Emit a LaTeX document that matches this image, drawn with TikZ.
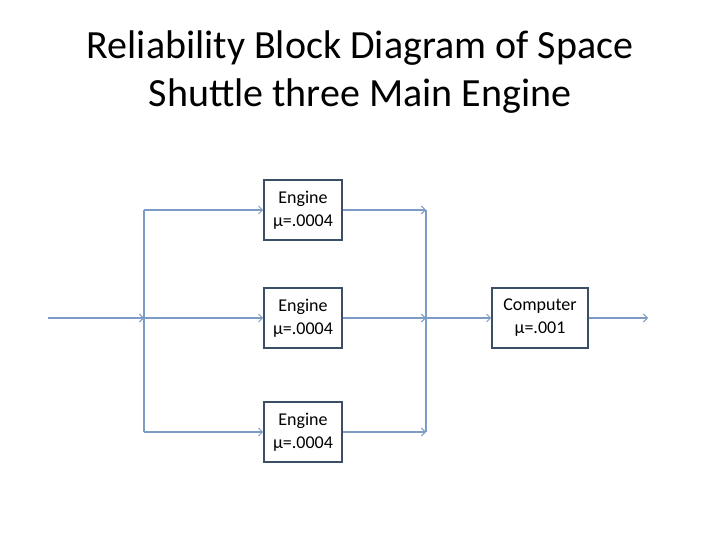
\documentclass[tikz,border=0pt]{standalone}
\usepackage{fontspec}
\setmainfont{Carlito}
\usetikzlibrary{arrows.meta}
\definecolor{lineblue}{HTML}{7C9CC6}
\definecolor{boxedge}{HTML}{3A4E66}
\tikzset{
  blk/.style={draw=boxedge, line width=1.6pt, fill=white, inner sep=0pt, align=center,
    font=\fontsize{18}{23}\selectfont, text=black},
  conn/.style={draw=lineblue, line width=1.2pt, -{Straight Barb[length=4pt,width=8pt,line width=0.9pt]}},
  plain/.style={draw=lineblue, line width=1.2pt}
}
\begin{document}
\begin{tikzpicture}[x=1pt,y=-1pt]
\useasboundingbox (0,0) rectangle (720,540);
\node[font=\fontsize{40}{48}\selectfont, align=center] (title) at (360,72) {Reliability Block Diagram of Space\\Shuttle three Main Engine};
\node[blk, minimum width=78pt, minimum height=60pt] (e1) at (303,210) {Engine\\μ=.0004};
\node[blk, minimum width=78pt, minimum height=60pt] (e2) at (303,318) {Engine\\μ=.0004};
\node[blk, minimum width=78pt, minimum height=60pt] (e3) at (303,432) {Engine\\μ=.0004};
\node[blk, minimum width=96pt, minimum height=60pt] (c) at (540,318) {Computer\\μ=.001};
\coordinate (in) at (48,318);
\coordinate (s) at (144,318);
\coordinate (s1) at (144,210);
\coordinate (s3) at (144,432);
\coordinate (j1) at (426,210);
\coordinate (j2) at (426,318);
\coordinate (j3) at (426,432);
\coordinate (out) at (648,318);
\draw[plain] (s1) -- (s3);
\draw[plain] (j1) -- (j3);
\draw[conn] (in) -- (s);
\draw[conn] (s1) -- (e1.west);
\draw[conn] (s) -- (e2.west);
\draw[conn] (s3) -- (e3.west);
\draw[conn] (e1.east) -- (j1);
\draw[conn] (e2.east) -- (j2);
\draw[conn] (e3.east) -- (j3);
\draw[conn] (j2) -- (c.west);
\draw[conn] (c.east) -- (out);
\end{tikzpicture}
\end{document}
